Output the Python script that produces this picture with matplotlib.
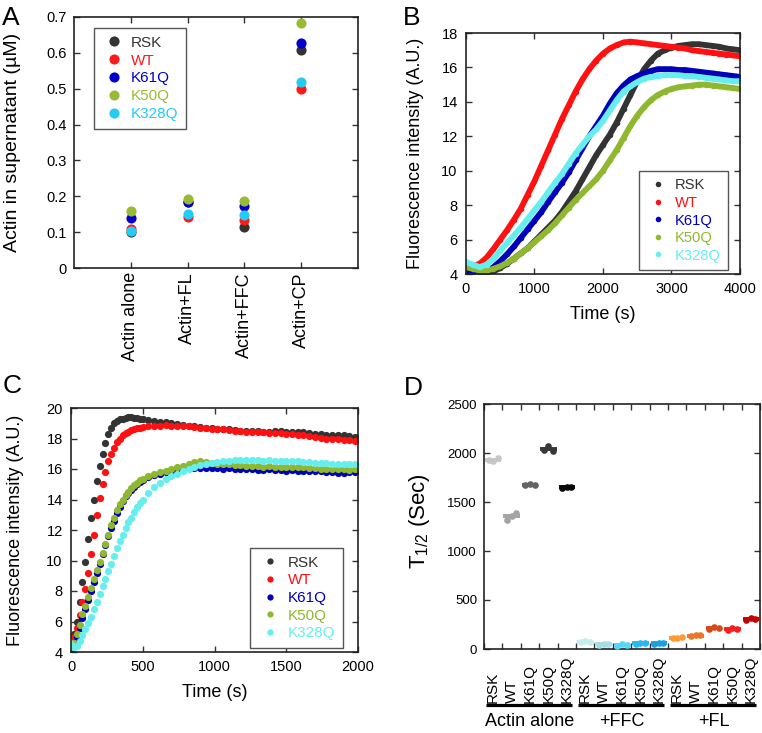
import numpy as np
import matplotlib
matplotlib.use('Agg')
import matplotlib.pyplot as plt
from matplotlib.lines import Line2D
import matplotlib.transforms as mtransforms

plt.rcParams['font.family'] = ['Liberation Sans', 'DejaVu Sans']
plt.rcParams['mathtext.fontset'] = 'custom'
plt.rcParams['mathtext.rm'] = 'Liberation Sans'
plt.rcParams['mathtext.it'] = 'Liberation Sans:italic'

variants = ['RSK', 'WT', 'K61Q', 'K50Q', 'K328Q']

# ---------------- Panel A data ----------------
a_conditions = ['Actin alone', 'Actin+FL', 'Actin+FFC', 'Actin+CP']
a_rsk = [0.100, 0.183, 0.113, 0.607]
a_wt = [0.110, 0.141, 0.135, 0.500]
a_k61q = [0.140, 0.185, 0.173, 0.627]
a_k50q = [0.160, 0.193, 0.188, 0.683]
a_k328q = [0.102, 0.150, 0.148, 0.520]
a_yticks = [0, 0.1, 0.2, 0.3, 0.4, 0.5, 0.6, 0.7]
a_yticklabels = ['0', '0.1', '0.2', '0.3', '0.4', '0.5', '0.6', '0.7']

# ---------------- Panel B data ----------------
b_time = list(range(0, 4001, 100))
b_rsk = [4.2, 4.1, 4.0, 4.05, 4.15, 4.35, 4.6, 4.9, 5.2, 5.5,
         5.9, 6.3, 6.7, 7.1, 7.6, 8.2, 8.8, 9.5, 10.2, 10.9,
         11.5, 12.1, 12.8, 13.6, 14.4, 15.2, 15.9, 16.4, 16.8, 17.0,
         17.15, 17.25, 17.3, 17.35, 17.35, 17.3, 17.25, 17.2, 17.1, 17.05, 17.0]
b_wt = [4.5, 4.45, 4.6, 4.95, 5.45, 6.0, 6.55, 7.15, 7.8, 8.6,
        9.4, 10.3, 11.2, 12.1, 13.0, 13.8, 14.6, 15.3, 15.9, 16.4,
        16.8, 17.1, 17.3, 17.45, 17.5, 17.45, 17.4, 17.35, 17.3, 17.25,
        17.2, 17.15, 17.1, 17.0, 16.95, 16.9, 16.85, 16.8, 16.75, 16.7, 16.65]
b_k61q = [4.2, 4.05, 4.0, 4.15, 4.4, 4.75, 5.15, 5.6, 6.1, 6.6,
          7.1, 7.6, 8.2, 8.75, 9.3, 9.9, 10.6, 11.3, 12.0, 12.6,
          13.2, 13.9, 14.5, 14.95, 15.3, 15.5, 15.65, 15.8, 15.9, 15.9,
          15.9, 15.85, 15.85, 15.8, 15.75, 15.7, 15.65, 15.6, 15.55, 15.5, 15.45]
b_k50q = [4.4, 4.3, 4.2, 4.2, 4.3, 4.45, 4.65, 4.9, 5.2, 5.5,
          5.85, 6.2, 6.55, 6.95, 7.4, 7.85, 8.3, 8.7, 9.1, 9.5,
          10.0, 10.6, 11.2, 11.9, 12.6, 13.2, 13.7, 14.1, 14.4, 14.6,
          14.75, 14.85, 14.9, 14.95, 15.0, 15.0, 14.95, 14.9, 14.85, 14.8, 14.75]
b_k328q = [4.7, 4.55, 4.4, 4.55, 4.9, 5.35, 5.8, 6.25, 6.7, 7.2,
           7.7, 8.2, 8.75, 9.3, 9.8, 10.4, 11.0, 11.5, 12.0, 12.4,
           12.9, 13.5, 14.1, 14.6, 14.9, 15.15, 15.35, 15.45, 15.5, 15.55,
           15.55, 15.55, 15.5, 15.5, 15.45, 15.4, 15.35, 15.3, 15.25, 15.2, 15.2]

# ---------------- Panel C data ----------------
c_time = list(range(0, 501, 20)) + list(range(540, 2000, 40))
c_rsk = [4.5, 5.2, 6.0, 7.3, 8.6, 9.9, 11.4, 12.8, 14.0, 15.2, 16.2, 17.0, 17.7,
         18.3, 18.7, 19.0, 19.15, 19.25, 19.3, 19.35, 19.4, 19.4, 19.35, 19.35, 19.3, 19.3,
         19.2, 19.15, 19.1, 19.05, 19.0, 18.95, 18.9, 18.85, 18.8, 18.75, 18.7, 18.7,
         18.65, 18.6, 18.6, 18.55, 18.5, 18.5, 18.5, 18.5, 18.45, 18.45, 18.5, 18.5,
         18.45, 18.45, 18.4, 18.4, 18.35, 18.3, 18.3, 18.25, 18.25, 18.2, 18.2, 18.15, 18.1]
c_wt = [4.5, 5.0, 5.6, 6.4, 7.3, 8.1, 9.2, 10.4, 11.7, 13.0, 14.1, 15.0, 15.8,
        16.5, 17.0, 17.4, 17.8, 18.0, 18.2, 18.35, 18.45, 18.55, 18.6, 18.7, 18.7, 18.75,
        18.8, 18.85, 18.85, 18.9, 18.85, 18.85, 18.8, 18.8, 18.75, 18.7, 18.7, 18.65,
        18.6, 18.6, 18.55, 18.5, 18.5, 18.45, 18.45, 18.4, 18.4, 18.35, 18.35, 18.35,
        18.3, 18.3, 18.25, 18.2, 18.15, 18.1, 18.05, 18.0, 18.0, 17.95, 17.9, 17.9, 17.85]
c_k61q = [4.0, 4.4, 5.0, 5.6, 6.2, 6.8, 7.4, 8.0, 8.6, 9.2, 9.8, 10.4, 11.0,
          11.6, 12.1, 12.6, 13.1, 13.5, 13.9, 14.2, 14.45, 14.65, 14.85, 15.0, 15.15, 15.25,
          15.45, 15.6, 15.7, 15.8, 15.9, 15.95, 16.0, 16.05, 16.05, 16.05, 16.05, 16.05,
          16.05, 16.0, 16.05, 16.0, 16.0, 16.0, 16.0, 15.95, 15.95, 16.0, 15.95, 15.95,
          15.9, 15.95, 15.9, 15.9, 15.85, 15.85, 15.85, 15.8, 15.8, 15.75, 15.75, 15.8, 15.8]
c_k50q = [4.3, 4.6, 5.2, 5.8, 6.5, 7.0, 7.6, 8.2, 8.8, 9.4, 9.9, 10.5, 11.1,
          11.7, 12.3, 12.8, 13.3, 13.7, 14.0, 14.3, 14.5, 14.75, 14.95, 15.1, 15.25, 15.35,
          15.55, 15.7, 15.8, 15.9, 16.0, 16.1, 16.2, 16.35, 16.45, 16.5, 16.45, 16.4,
          16.35, 16.3, 16.3, 16.25, 16.25, 16.2, 16.2, 16.2, 16.15, 16.2, 16.15, 16.15,
          16.15, 16.1, 16.1, 16.1, 16.05, 16.05, 16.0, 16.0, 16.0, 16.0, 16.0, 15.95, 16.0]
c_k328q = [4.5, 4.35, 4.4, 4.7, 5.1, 5.5, 5.9, 6.3, 6.8, 7.3, 7.8, 8.3, 8.8,
           9.3, 9.8, 10.3, 10.8, 11.3, 11.7, 12.1, 12.5, 12.8, 13.2, 13.5, 13.8, 14.0,
           14.4, 14.8, 15.1, 15.35, 15.55, 15.7, 15.85, 16.0, 16.15, 16.25, 16.35, 16.4,
           16.45, 16.5, 16.55, 16.6, 16.6, 16.6, 16.6, 16.6, 16.55, 16.6, 16.55, 16.55,
           16.55, 16.5, 16.5, 16.45, 16.45, 16.4, 16.4, 16.4, 16.35, 16.35, 16.35, 16.3, 16.35]

# ---------------- Panel D data ----------------
d_groups = ['Actin alone', '+FFC', '+FL']
d_alone = [[1925, 1915, 1950], [1320, 1355, 1385], [1670, 1685, 1675],
           [2030, 2075, 2025], [1645, 1650, 1655]]
d_ffc = [[70, 80, 75], [45, 55, 48], [30, 50, 45], [50, 65, 58], [55, 60, 58]]
d_fl = [[110, 115, 120], [130, 140, 138], [205, 225, 212], [195, 210, 200], [300, 320, 310]]
d_yticks = [0, 500, 1000, 1500, 2000, 2500]

# ---------------- styles ----------------
a_colors = ['#333333', '#ff1a1a', '#0000cc', '#99bb33', '#22ccf5']
bc_colors = ['#333333', '#ff1111', '#0000bb', '#8fb830', '#66eeee']
d_colors = ['#c6c6c6', '#a4a4a4', '#646464', '#383838', '#0a0a0a',
            '#c6ecec', '#a6dde8', '#55d6f4', '#2ab8ee', '#18a2e2',
            '#ff9a34', '#ee762a', '#d64a1a', '#f42020', '#c20404']

W, H = 762, 733
fig = plt.figure(figsize=(W / 100, H / 100), dpi=100)


def px_axes(l, t, r, b):
    return fig.add_axes([l / W, 1 - b / H, (r - l) / W, (b - t) / H])


def style(ax, labelsize=10.5, pad=5):
    for s in ax.spines.values():
        s.set_linewidth(1.2)
        s.set_color('#222222')
    ax.tick_params(direction='in', top=True, right=True, length=4, width=1,
                   color='#333333', labelsize=labelsize, pad=pad)


axA = px_axes(74, 17, 358, 268)
axB = px_axes(466, 33, 740, 274)
axC = px_axes(71, 408, 358, 652)
axD = px_axes(484, 404, 760, 649)

# ---------------- Panel A ----------------
a_x = np.arange(1, len(a_conditions) + 1)
for name, vals, c in zip(variants, [a_rsk, a_wt, a_k61q, a_k50q, a_k328q], a_colors):
    axA.plot(a_x, vals, 'o', color=c, ms=7.3, mec='none', label=name)
axA.set_xlim(0, 5)
axA.set_ylim(0, 0.7)
axA.set_yticks(a_yticks)
axA.set_yticklabels(a_yticklabels)
axA.set_xticks(a_x)
axA.set_xticklabels(a_conditions, rotation=90)
style(axA, pad=5)
axA.tick_params(axis='x', labelsize=13, pad=3)
axA.set_ylabel('Actin in supernatant (\u00b5M)', fontsize=14)
axA.yaxis.set_label_coords(-0.215, 0.5)
axA.yaxis.label.set_va('center')
legA = axA.legend(loc='upper left', bbox_to_anchor=(0.0704, 0.956), borderaxespad=0,
                  fontsize=11, fancybox=False, edgecolor='#555555', framealpha=1,
                  handlelength=1.6, handletextpad=0.31, borderpad=0.5, labelspacing=0.255,
                  numpoints=1)
legA.get_frame().set_linewidth(1.0)
for t, c in zip(legA.get_texts(), a_colors):
    t.set_color(c)


# ---------------- Panels B and C ----------------
def curve_panel(ax, time, series, xlim, ylim, xticks, yticks, leg_anchor, legfs,
                line, ms, leg_ms):
    for name, vals, c in zip(variants, series, bc_colors):
        if line:
            ax.plot(time, vals, '-o', color=c, lw=4.2, ms=ms, mec='none')
        else:
            ax.plot(time, vals, 'o', color=c, ms=ms, mec='none')
    ax.set_xlim(*xlim)
    ax.set_ylim(*ylim)
    ax.set_xticks(xticks)
    ax.set_yticks(yticks)
    style(ax, pad=6)
    ax.set_xlabel('Time (s)', fontsize=13)
    ax.set_ylabel('Fluorescence intensity (A.U.)', fontsize=13)
    handles = [Line2D([], [], ls='none', marker='o', color=c, ms=leg_ms, mec='none')
               for c in bc_colors]
    leg = ax.legend(handles, variants, loc='upper left', bbox_to_anchor=leg_anchor,
                    borderaxespad=0, fontsize=legfs, fancybox=False, edgecolor='#555555',
                    framealpha=1, handlelength=1.6, handletextpad=0.35, borderpad=0.5,
                    labelspacing=0.24)
    leg.get_frame().set_linewidth(1.0)
    for t, c in zip(leg.get_texts(), bc_colors):
        t.set_color(c)


curve_panel(axB, b_time, [b_rsk, b_wt, b_k61q, b_k50q, b_k328q], (0, 4000), (4, 18),
            [0, 1000, 2000, 3000, 4000], [4, 6, 8, 10, 12, 14, 16, 18],
            (0.631, 0.427), 10.6, True, 4.0, 4.0)
axB.yaxis.set_label_coords(-0.186, 0.5)
axB.yaxis.label.set_va('center')
axB.xaxis.set_label_coords(0.5, -0.170)
axB.xaxis.label.set_va('center')

curve_panel(axC, c_time, [c_rsk, c_wt, c_k61q, c_k50q, c_k328q], (0, 2000), (4, 20),
            [0, 500, 1000, 1500, 2000], [4, 6, 8, 10, 12, 14, 16, 18, 20],
            (0.624, 0.426), 11, False, 5.2, 4.5)
axC.yaxis.set_label_coords(-0.195, 0.5)
axC.yaxis.label.set_va('center')
axC.xaxis.set_label_coords(0.5, -0.168)
axC.xaxis.label.set_va('center')

# ---------------- Panel D ----------------
d_values = d_alone + d_ffc + d_fl
d_labels = variants * len(d_groups)
offs = np.array([-0.25, 0.0, 0.25])
for i, (vals, c) in enumerate(zip(d_values, d_colors)):
    axD.plot(i + offs, vals, 'o', color=c, ms=4.8, mec='none', zorder=3)
    axD.plot([i - 0.45, i + 0.45], [np.mean(vals)] * 2, color=c, lw=2.8,
             solid_capstyle='butt', zorder=2)
axD.set_xlim(-0.5, len(d_values) - 0.5)
axD.set_ylim(0, 2500)
axD.set_yticks(d_yticks)
axD.set_xticks(np.arange(-0.5, len(d_values), 1))
axD.set_xticklabels([])
style(axD, labelsize=9.5, pad=5)
tD = mtransforms.blended_transform_factory(axD.transData, axD.transAxes)
for i, lab in enumerate(d_labels):
    axD.text(i, -0.220, lab, rotation=90, ha='center', va='bottom', fontsize=11,
             transform=tD, clip_on=False)
for g, name in enumerate(d_groups):
    x0 = g * 5
    axD.plot([x0 - 0.4, x0 + 4.3], [-0.2286, -0.2286], color='black', lw=2.3,
             transform=tD, clip_on=False, solid_capstyle='butt')
    axD.text(x0 + 2.0, -0.314, name, ha='center', va='baseline', fontsize=13,
             transform=tD, clip_on=False)
axD.set_ylabel(r'T$_{\mathregular{1/2}}$ (Sec)', fontsize=16)
axD.yaxis.set_label_coords(-0.232, 0.522)
axD.yaxis.label.set_va('center')

# ---------------- panel letters ----------------
for lab, x, y in [('A', 2, 25), ('B', 403, 25), ('C', 3, 393), ('D', 404, 395)]:
    fig.text(x / W, 1 - y / H, lab, fontsize=19, ha='left', va='baseline')

fig.savefig('out.png', dpi=100)
